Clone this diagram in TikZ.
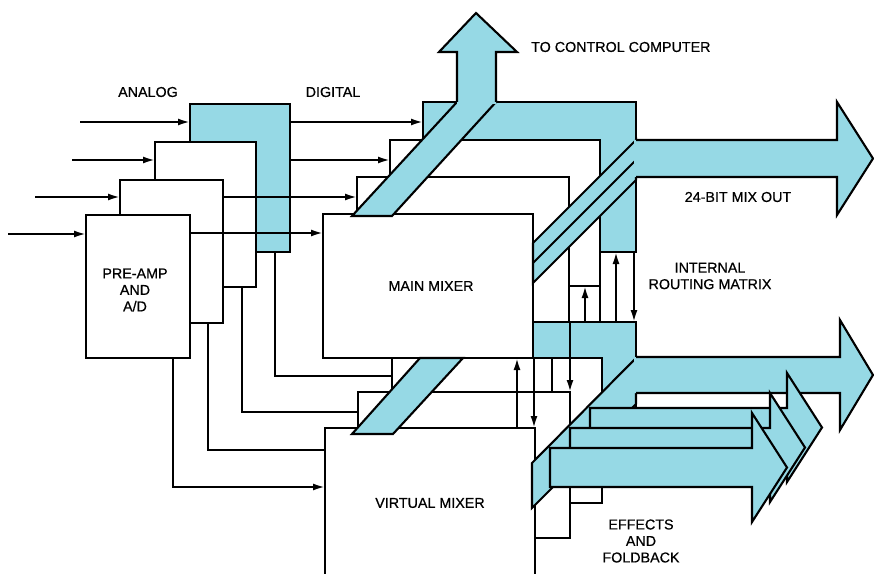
\documentclass[tikz,border=0pt]{standalone}
\usepackage{fontspec}
\setmainfont{Liberation Sans}
\newfontfamily\lblfont{Liberation Sans}[FakeBold=0.6]
\usetikzlibrary{arrows.meta}
\definecolor{panel}{RGB}{150,217,229}
\tikzset{
  wire/.style={line width=2.1bp},
  sig/.style={wire, -{Latex[length=12bp,width=7bp]}},
  blk/.style={wire, fill=white},
  tint/.style={wire, fill=panel},
  lbl/.style={font=\lblfont\fontsize{14.3bp}{16.5bp}\selectfont, align=center, inner sep=0pt},
}
\begin{document}
\begin{tikzpicture}[x=1bp, y=-1bp, line join=miter]
        \useasboundingbox (0,0) rectangle (874,574);
        \clip (0,0) rectangle (874,574);

        % Pre-amp stack, back to front
        \filldraw[tint] (190,104) rectangle (290,252);
        \foreach \l/\t/\r/\b in {155/142/256/287, 120/180/223/323, 86/215/190/358} {
            \filldraw[blk] (\l,\t) rectangle (\r,\b);
        }

        % Analog inputs
        \foreach \xa/\xb/\y in {80/190/122, 72/155/160, 35/120/197, 8/86/234} {
            \draw[sig] (\xa,\y) -- (\xb,\y);
        }

        % Digital lines to the main mixer
        \foreach \xa/\xb/\y in {290/423/122, 290/390/160, 223/357/197, 190/323/233} {
            \draw[sig] (\xa,\y) -- (\xb,\y);
        }

        % Digital lines to the virtual mixer
        \draw[wire] (275,252) |- (392,376);
        \draw[wire] (242,287) |- (358,412);
        \draw[wire] (208,323) |- (325,450);
        \draw[sig] (173,358) |- (325,487);

        % Back panel of the virtual mixer
        \filldraw[tint] (425,322) rectangle (636,468);

        % Main mixer stack
        \filldraw[tint] (423,102) rectangle (636,252);
        \foreach \l/\t/\r/\b in {390/140/600/286, 357/177/569/322, 323/214/533/358} {
            \filldraw[blk] (\l,\t) rectangle (\r,\b);
        }

        % Virtual mixer stack
        \foreach \l/\t/\r/\b in {392/358/602/503, 358/392/570/538, 325/428/535/600} {
            \filldraw[blk] (\l,\t) rectangle (\r,\b);
        }

        % Crossbar bands
        \filldraw[tint] (457,102) -- (496,102) -- (392,216) -- (352,216) -- cycle;
        \filldraw[tint] (636,140) -- (636,180) -- (533,283) -- (533,243) -- cycle;
        \draw[wire] (636,160) -- (533,263);
        \filldraw[tint] (420,358) -- (463,358) -- (393,434) -- (352,434) -- cycle;
        \filldraw[tint] (636,358) -- (636,404) -- (532,508) -- (532,463) -- cycle;

        % Internal routing
        \foreach \x/\ya/\yb in {585/322/286, 616/322/252, 634/252/322, 517/428/358, 534/358/428, 570/322/392} {
            \draw[sig] (\x,\ya) -- (\x,\yb);
        }
        \draw[wire] (600,286) -- (600,322);
        \draw[wire] (552,358) -- (552,392);

        % To control computer
        \fill[panel] (457,104) -- (457,52) -- (439,52) -- (476,13) -- (517,52) -- (496,52) -- (496,104) -- cycle;
        \draw[wire] (457,102) -- (457,52) -- (439,52) -- (476,13) -- (517,52) -- (496,52) -- (496,102);

        % Mix outputs
        \fill[panel] (634,140) -- (837,140) -- (837,102) -- (873,158.5) -- (837,215) -- (837,177) -- (634,177) -- cycle;
        \draw[wire] (636,140) -- (837,140) -- (837,102) -- (873,158.5) -- (837,215) -- (837,177) -- (636,177);
        \fill[panel] (634,357) -- (840,357) -- (840,320) -- (873,375) -- (840,430) -- (840,393) -- (634,393) -- cycle;
        \draw[wire] (636,357) -- (840,357) -- (840,320) -- (873,375) -- (840,430) -- (840,393) -- (636,393);

        % Effects and foldback
        \foreach \l/\t/\hb/\tip in {590/408/787/822, 570/428/770/805, 550/448/752/787} {
            \filldraw[tint] (\l,\t) -- (\hb,\t) -- (\hb,\t-35) -- (\tip,\t+19.5) -- (\hb,\t+74) -- (\hb,\t+39) -- (\l,\t+39) -- cycle;
        }

        % Labels
        \node[lbl] (analog) at (148,92) {ANALOG};
        \node[lbl] (digital) at (333,92) {DIGITAL};
        \node[lbl, anchor=west] (tocc) at (531,47) {TO CONTROL COMPUTER};
        \node[lbl] (mixout) at (738,197) {24-BIT MIX OUT};
        \node[lbl] (routing) at (710,276) {INTERNAL\\ROUTING MATRIX};
        \node[lbl] (preamp) at (135,290) {PRE-AMP\\AND\\A/D};
        \node[lbl] (mainmix) at (431,286) {MAIN MIXER};
        \node[lbl] (virtmix) at (430,503) {VIRTUAL MIXER};
        \node[lbl] (effects) at (641,541) {EFFECTS\\AND\\FOLDBACK};
\end{tikzpicture}
\end{document}
